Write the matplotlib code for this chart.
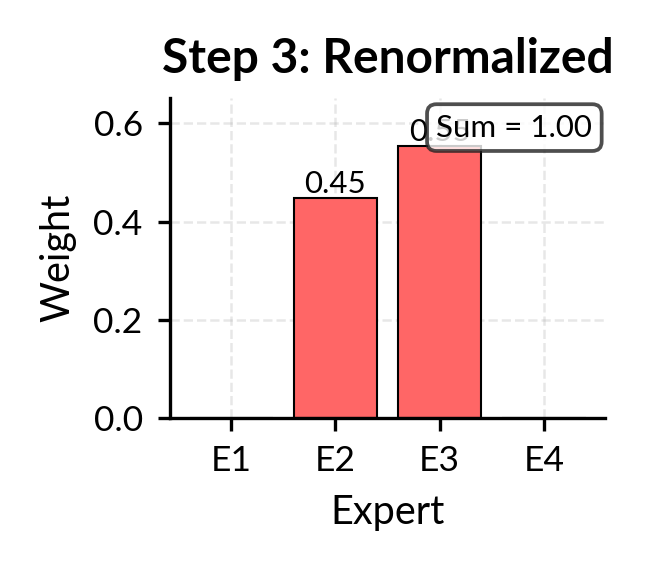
import matplotlib
matplotlib.use("Agg")
import matplotlib.pyplot as plt

experts = ["E1", "E2", "E3", "E4"]
weights = [0.0, 0.447, 0.553, 0.0]

plt.rcParams['font.family'] = ['Lato', 'DejaVu Sans']
fig, ax = plt.subplots(figsize=(658/300, 574/300), dpi=300)
fig.subplots_adjust(left=0.258, right=0.92, top=0.83, bottom=0.272)
bars = ax.bar(experts, weights, color='#ff6666', edgecolor='black', linewidth=0.5)
for b, w in zip(bars, weights):
    if w > 0:
        ax.text(b.get_x() + b.get_width()/2, w, f"{w:.2f}", ha='center', va='bottom', fontsize=7.5)
ax.set_ylim(0, max(weights) * 1.18)
ax.set_yticks([0, 0.2, 0.4, 0.6])
ax.grid(True, linestyle='--', alpha=0.3, linewidth=0.6)
ax.set_axisbelow(True)
ax.spines['top'].set_visible(False)
ax.spines['right'].set_visible(False)
for s in ax.spines.values():
    s.set_linewidth(0.8)
ax.tick_params(labelsize=8.5, width=0.8, length=3)
ax.set_xlabel("Expert", fontsize=9.5)
ax.set_ylabel("Weight", fontsize=9.5)
ax.set_title("Step 3: Renormalized", fontsize=11.5, fontweight='bold')
ax.text(0.97, 0.95, f"Sum = {sum(weights):.2f}", transform=ax.transAxes, ha='right', va='top',
        fontsize=7.5, bbox=dict(boxstyle='round,pad=0.3', facecolor='white', edgecolor='#222222', alpha=0.8, linewidth=0.9))
fig.savefig("out.png", dpi=300)
